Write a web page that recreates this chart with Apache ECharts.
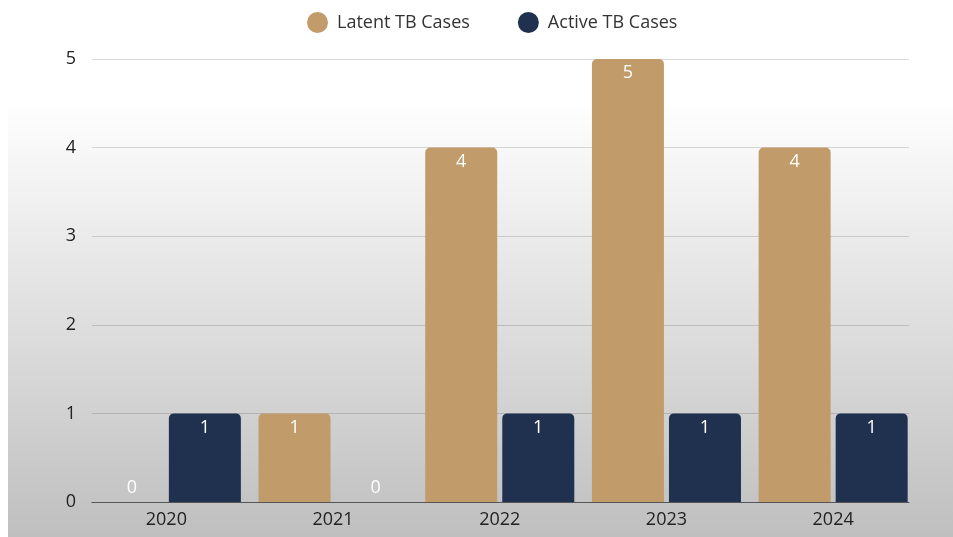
<!DOCTYPE html>
<html>
<head>
<meta charset="utf-8">
<script src="https://cdn.jsdelivr.net/npm/echarts@6/dist/echarts.min.js"></script>
<style>
html,body{margin:0;padding:0;background:#fff;}
#chart{width:953px;height:537px;}
</style>
</head>
<body>
<div id="chart"></div>
<script>
const categories = ['2020', '2021', '2022', '2023', '2024'];
const latentCases = [0, 1, 4, 5, 4];
const activeCases = [1, 0, 1, 1, 1];
const yTicks = [0, 1, 2, 3, 4, 5];

const FONT = 'Open Sans';
const chart = echarts.init(document.getElementById('chart'));

function items(arr) {
  return arr.map(v => v === 0
    ? { value: v, label: { position: 'top', distance: 5, offset: [4, 0] } }
    : { value: v });
}

const barLabel = {
  show: true,
  position: 'insideTop',
  distance: 5,
  color: '#ffffff',
  fontFamily: FONT,
  fontSize: 18,
  fontWeight: 'normal'
};

chart.setOption({
  animation: false,
  backgroundColor: '#ffffff',
  graphic: [{
    type: 'rect',
    z: -10,
    silent: true,
    shape: { x: 8, y: 107, width: 945, height: 430 },
    style: {
      fill: new echarts.graphic.LinearGradient(0, 0, 0, 1, [
        { offset: 0, color: '#fefefe' },
        { offset: 1, color: '#bfbfbf' }
      ])
    }
  }],
  legend: {
    top: 7,
    left: 302,
    icon: 'circle',
    itemWidth: 21,
    itemHeight: 21,
    itemGap: 48,
    textStyle: { fontFamily: FONT, fontSize: 18, color: '#333', padding: [0, 0, 0, 4] },
    data: ['Latent TB Cases', 'Active TB Cases']
  },
  grid: [
    { left: 83, right: 36.5, top: 59, bottom: 35 },
    { left: 92, right: 44, top: 59, bottom: 35 }
  ],
  xAxis: [
    {
      gridIndex: 0,
      type: 'category',
      data: categories,
      axisLine: { show: false },
      axisTick: { show: false },
      axisLabel: { margin: 9, fontFamily: FONT, fontSize: 18, color: '#222' }
    },
    {
      gridIndex: 1,
      type: 'category',
      data: categories,
      axisLine: { show: true, lineStyle: { color: '#555', width: 1 } },
      axisTick: { show: false },
      axisLabel: { show: false },
      z: 5
    }
  ],
  yAxis: [
    {
      gridIndex: 0,
      type: 'value',
      min: yTicks[0],
      max: yTicks[yTicks.length - 1],
      interval: 1,
      show: false,
      splitLine: { show: false }
    },
    {
      gridIndex: 1,
      type: 'value',
      min: yTicks[0],
      max: yTicks[yTicks.length - 1],
      interval: 1,
      axisLine: { show: false },
      axisTick: { show: false },
      axisLabel: { margin: 16, fontFamily: FONT, fontSize: 18, color: '#222' },
      splitLine: { show: true, lineStyle: { color: 'rgba(0,0,0,0.14)', width: 1 } }
    }
  ],
  series: [
    {
      name: 'Latent TB Cases',
      type: 'bar',
      xAxisIndex: 0,
      yAxisIndex: 0,
      data: items(latentCases),
      barWidth: 72,
      barGap: '7%',
      itemStyle: { color: '#C19B69', borderRadius: [5, 5, 0, 0] },
      label: barLabel,
      z: 3
    },
    {
      name: 'Active TB Cases',
      type: 'bar',
      xAxisIndex: 0,
      yAxisIndex: 0,
      data: items(activeCases),
      barWidth: 72,
      barGap: '7%',
      itemStyle: { color: '#1F314F', borderRadius: [5, 5, 0, 0] },
      label: barLabel,
      z: 3
    }
  ]
});
</script>
</body>
</html>
